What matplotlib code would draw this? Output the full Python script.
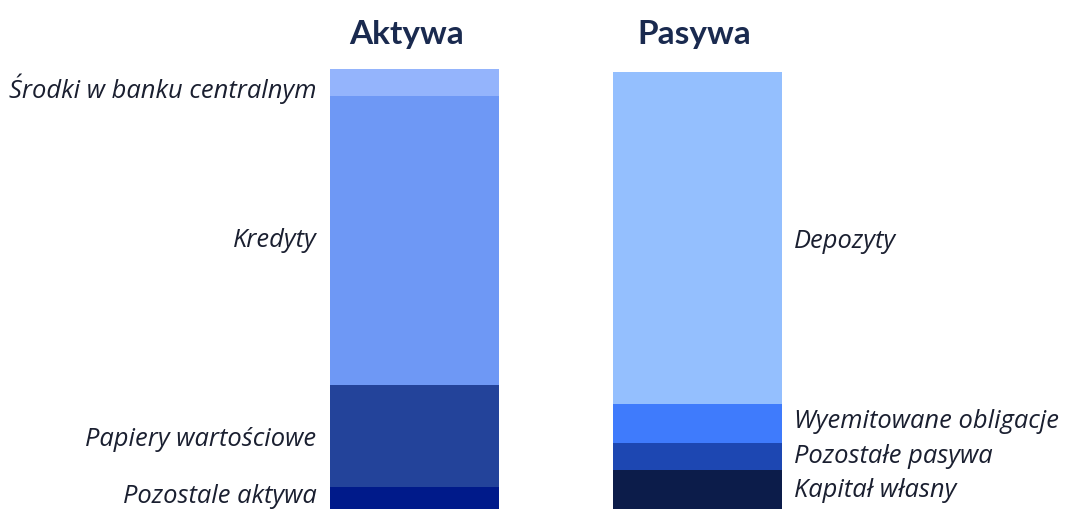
import matplotlib.pyplot as plt
import numpy as np

plt.rcParams["font.family"] = ["Lato", "DejaVu Sans"]

# bar composition (% of balance sheet), bottom -> top
aktywa_labels = ["Pozostale aktywa", "Papiery wartościowe", "Kredyty", "Środki w banku centralnym"]
aktywa_values = [5.1, 23.1, 65.8, 6.0]
aktywa_colors = ["#001A8A", "#23439A", "#6E98F5", "#94B4FC"]

pasywa_labels = ["Kapitał własny", "Pozostałe pasywa", "Wyemitowane obligacje", "Depozyty"]
pasywa_values = [8.9, 6.1, 8.9, 75.5]
pasywa_colors = ["#0C1C4A", "#1D47B2", "#3F7BFC", "#94BFFE"]

titles = ["Aktywa", "Pasywa"]

fig = plt.figure(figsize=(10.68, 5.09), dpi=100)
ax = fig.add_axes([0, 0, 1, 1])
ax.set_xlim(-1.467, 2.311)
ax.set_ylim(0, 115.8)
ax.axis("off")

width = 0.596
text_color = "#1A1F30"
# small vertical nudges of the labels (label placement, not data)
nudge_left = [0.3, -0.8, 0.0, -1.4]
nudge_right = [-0.3, 0.0, 0.5, -0.9]

def stack(x, values, colors, labels, side, nudge):
    bottom = 0
    for v, c, lab, dy in zip(values, colors, labels, nudge):
        ax.bar(x, v, width, bottom=bottom, color=c, edgecolor="none")
        yc = bottom + v / 2 + dy
        if side == "left":
            ax.text(x - width / 2 - 0.05, yc, lab, ha="right", va="center",
                    style="italic", fontsize=18.4, color=text_color,
                    family=["Open Sans", "DejaVu Sans"])
        else:
            ax.text(x + width / 2 + 0.045, yc, lab, ha="left", va="center",
                    style="italic", fontsize=18.4, color=text_color,
                    family=["Open Sans", "DejaVu Sans"])
        bottom += v

stack(0, aktywa_values, aktywa_colors, aktywa_labels, "left", nudge_left)
stack(1, pasywa_values, pasywa_colors, pasywa_labels, "right", nudge_right)

for x, t in zip([-0.03, 0.99], titles):
    ax.text(x, 108.0, t, ha="center", va="center", fontsize=24,
            fontweight="bold", color="#1A2A4F")

fig.savefig("out.png", dpi=100)
